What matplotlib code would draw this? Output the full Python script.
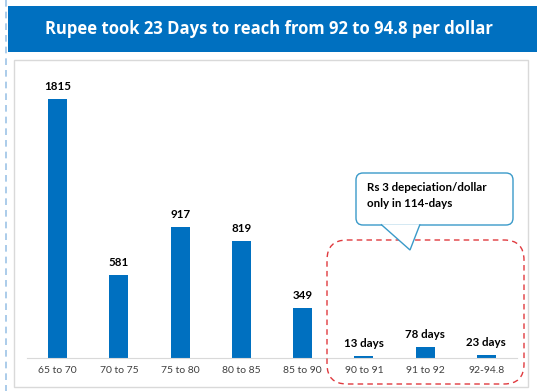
import matplotlib
matplotlib.use("Agg")
import matplotlib.pyplot as plt
from matplotlib.patches import FancyBboxPatch, Rectangle, Polygon

# data
ranges = ["65 to 70", "70 to 75", "75 to 80", "80 to 85", "85 to 90",
          "90 to 91", "91 to 92", "92-94.8"]
days = [1815, 581, 917, 819, 349, 13, 78, 23]
bar_labels = ["1815", "581", "917", "819", "349", "13 days", "78 days", "23 days"]
title = "Rupee took 23 Days to reach from 92 to 94.8 per dollar"
note = "Rs 3 depeciation/dollar\nonly in 114-days"

W, H = 537, 391
blue = "#0070C0"

fig = plt.figure(figsize=(W / 100, H / 100), dpi=100)
fig.patch.set_facecolor("white")

# overlay axes in pixel coordinates for the decoration
bg = fig.add_axes([0, 0, 1, 1], zorder=0)
bg.set_xlim(0, W)
bg.set_ylim(H, 0)
bg.axis("off")

bg.plot([6, 6], [0, H], color="#9DC3E6", lw=1.2, ls=(0, (4, 3)))
bg.add_patch(Rectangle((8, 6), W - 8, 46, facecolor=blue, edgecolor="none"))
bg.text((8 + W) / 2 - 4, 29, title, color="white", fontsize=12, fontweight="bold",
        family="Open Sans", ha="center", va="center")
bg.add_patch(Rectangle((14, 60), 514, 327, facecolor="white",
                       edgecolor="#D9D9D9", lw=1))

# main bar axes
x0, x1, ytop, ybase = 27, 517, 60, 358
ax = fig.add_axes([x0 / W, (H - ybase) / H, (x1 - x0) / W, (ybase - ytop) / H], zorder=1)
ax.patch.set_alpha(0)
pos = list(range(len(ranges)))
ax.bar(pos, days, width=0.31, color=blue)
ax.set_xlim(-0.5, len(ranges) - 0.5)
ax.set_ylim(0, 2088)
for i, (v, lab) in enumerate(zip(days, bar_labels)):
    ax.annotate(lab, (i, v), xytext=(0, 5), textcoords="offset points",
                ha="center", va="bottom", fontsize=8.3, fontweight="bold",
                family="Lato", color="black")
ax.set_xticks(pos)
ax.set_xticklabels(ranges, fontsize=7.5, family="Lato", color="#404040")
ax.tick_params(axis="x", length=0, pad=6)
ax.set_yticks([])
for s in ["top", "right", "left"]:
    ax.spines[s].set_visible(False)
ax.spines["bottom"].set_color("#D9D9D9")

# annotation layer
top = fig.add_axes([0, 0, 1, 1], zorder=2)
top.set_xlim(0, W)
top.set_ylim(H, 0)
top.axis("off")

top.add_patch(FancyBboxPatch((327, 240), 197, 144, boxstyle="round,pad=0,rounding_size=20",
                             facecolor="none", edgecolor="#E0393E", lw=1,
                             ls=(0, (4, 3))))

callout_c = "#3A9AC9"
top.add_patch(FancyBboxPatch((356, 173), 157, 52, boxstyle="round,pad=0,rounding_size=7",
                             facecolor="white", edgecolor=callout_c, lw=1))
top.add_patch(Polygon([(381, 224.3), (410, 250), (420, 224.3)], closed=False,
                      facecolor="white", edgecolor=callout_c, lw=1))
top.text(367, 195.5, note, fontsize=8.3, fontweight="bold", family="Lato",
         ha="left", va="center", linespacing=1.6)

fig.savefig("out.png", dpi=100)
